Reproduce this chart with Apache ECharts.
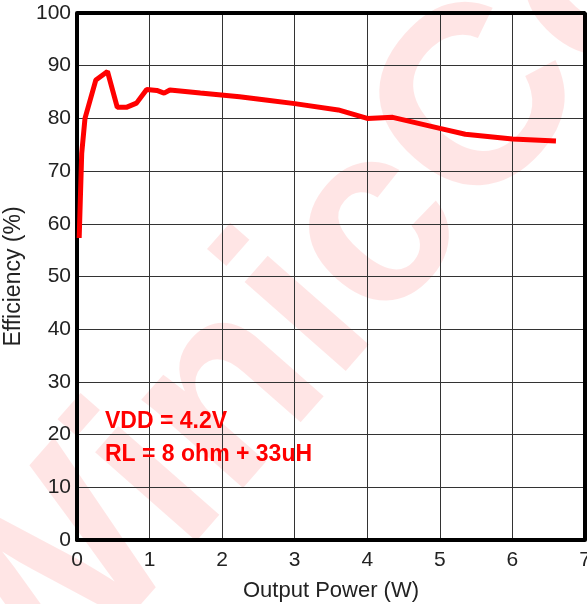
<!DOCTYPE html>
<html>
<head>
<meta charset="utf-8">
<script src="https://cdn.jsdelivr.net/npm/echarts@6/dist/echarts.min.js"></script>
<style>
  html, body { margin: 0; padding: 0; background: #fff; }
  #chart { width: 587px; height: 604px; }
</style>
</head>
<body>
<div id="chart"></div>
<script>
// output power (W) and efficiency (%)
const power = [0.03, 0.065, 0.11, 0.26, 0.42, 0.555, 0.68, 0.82, 0.96, 1.1, 1.2, 1.28, 1.7, 2.24, 2.6, 3.0, 3.6, 4.0, 4.35, 5.0, 5.35, 6.0, 6.6];
const efficiency = [57.3, 73.4, 80.0, 87.3, 88.9, 82.1, 82.1, 82.9, 85.5, 85.3, 84.8, 85.4, 84.8, 84.1, 83.5, 82.8, 81.6, 80.0, 80.2, 78.1, 77.0, 76.1, 75.7];
const notes = ['VDD = 4.2V', 'RL = 8 ohm + 33uH'];

const chart = echarts.init(document.getElementById('chart'));

const font = 'Liberation Sans, Arial, sans-serif';

chart.setOption({
  animation: false,
  backgroundColor: '#fff',
  grid: { left: 77, right: 2, top: 13, bottom: 64, containLabel: false, outerBoundsMode: 'none' },
  graphic: [
    {
      // faint diagonal watermark
      type: 'text',
      z: -10,
      silent: true,
      x: 310,
      y: 305,
      rotation: 0.85,
      style: {
        text: 'WinicCo',
        font: 'bold 255px Liberation Sans, Arial, sans-serif',
        fill: 'rgba(255, 0, 0, 0.1)',
        textAlign: 'center',
        textVerticalAlign: 'middle'
      }
    },
    {
      type: 'text',
      z: 100,
      x: 105,
      y: 422,
      style: {
        text: notes[0],
        font: 'bold 23px ' + font,
        fill: '#ff0000',
        textVerticalAlign: 'middle'
      }
    },
    {
      type: 'text',
      z: 100,
      x: 105,
      y: 455,
      style: {
        text: notes[1],
        font: 'bold 23px ' + font,
        fill: '#ff0000',
        textVerticalAlign: 'middle'
      }
    }
  ],
  xAxis: {
    type: 'value',
    min: 0,
    max: 7,
    interval: 1,
    name: 'Output Power (W)',
    nameLocation: 'middle',
    nameGap: 40,
    nameTextStyle: { fontFamily: font, fontSize: 22, color: '#222' },
    axisLine: { show: true, lineStyle: { color: '#000', width: 4 } },
    axisTick: { show: false },
    axisLabel: { fontFamily: font, fontSize: 21, color: '#222', margin: 10 },
    splitLine: { show: true, lineStyle: { color: '#333', width: 1 } }
  },
  yAxis: {
    type: 'value',
    min: 0,
    max: 100,
    interval: 10,
    name: 'Efficiency (%)',
    nameLocation: 'middle',
    nameGap: 52,
    nameTextStyle: { fontFamily: font, fontSize: 23, color: '#222' },
    axisLine: { show: true, lineStyle: { color: '#000', width: 4 } },
    axisTick: { show: false },
    axisLabel: { fontFamily: font, fontSize: 21, color: '#222', margin: 6 },
    splitLine: { show: true, lineStyle: { color: '#333', width: 1 } }
  },
  series: [
    {
      type: 'line',
      data: power.map((p, i) => [p, efficiency[i]]),
      showSymbol: false,
      lineStyle: { color: '#ff0000', width: 5 },
      z: 5
    },
    {
      // top and right frame edges
      type: 'line',
      data: [[0, 100], [7, 100], [7, 0]],
      showSymbol: false,
      silent: true,
      lineStyle: { color: '#000', width: 4 },
      z: 6
    }
  ]
});
</script>
</body>
</html>
